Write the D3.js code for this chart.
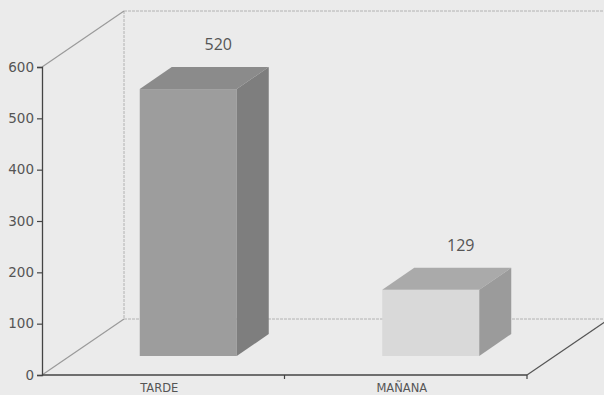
<!DOCTYPE html>
<html>
<head>
<meta charset="utf-8">
<script src="https://cdn.jsdelivr.net/npm/d3@7"></script>
<style>
  html, body { margin: 0; padding: 0; background: #ebebeb; }
  svg { display: block; }
</style>
</head>
<body>
<svg id="chart" width="604" height="395"></svg>
<script>
// Data
const categories = ["TARDE", "MAÑANA"];
const values = [520, 129];
const yTickValues = [0, 100, 200, 300, 400, 500, 600];

// Colours per bar: front, top, side
const frontColors = ["#9d9d9d", "#d9d9d9"];
const topColors = ["#8b8b8b", "#aaaaaa"];
const sideColors = ["#7e7e7e", "#9b9b9b"];

const W = 604, H = 395;
const plotLeft = 42, plotRight = 527, plotBottom = 375, plotTop = 67;
// oblique depth of the chart box and of each bar
const depth = { dx: 82, dy: -56 };
const barShift = { dx: 25, dy: -19 };
const barDepth = { dx: 32, dy: -22 };

const svg = d3.select("#chart");
svg.append("rect").attr("width", W).attr("height", H).attr("fill", "#ebebeb");

const y = d3.scaleLinear().domain([0, 600]).range([plotBottom, plotTop]);
const xAxisScale = d3.scaleBand().domain(categories).range([plotLeft, plotRight]).padding(0);
const xBar = d3.scaleBand().domain(categories)
  .range([plotLeft + barShift.dx, plotRight + barShift.dx])
  .paddingInner(0.6).paddingOuter(0.3);

// Back wall and floor edges
const wall = svg.append("g").attr("fill", "none").attr("stroke", "#b2b2b2").attr("stroke-width", 1);
const bx0 = plotLeft + depth.dx, bx1 = plotRight + depth.dx;
const byTop = y(600) + depth.dy, byBot = y(0) + depth.dy;
wall.append("line").attr("x1", bx0).attr("y1", byTop).attr("x2", bx1).attr("y2", byTop).attr("stroke-dasharray", "3,1");
wall.append("line").attr("x1", bx0).attr("y1", byTop).attr("x2", bx0).attr("y2", byBot).attr("stroke-dasharray", "3,1");
wall.append("line").attr("x1", bx0).attr("y1", byBot).attr("x2", bx1).attr("y2", byBot).attr("stroke-dasharray", "3,1");

// Oblique edges
const diag = svg.append("g").attr("fill", "none");
diag.append("line").attr("x1", plotLeft).attr("y1", y(600)).attr("x2", bx0).attr("y2", byTop)
  .attr("stroke", "#9a9a9a").attr("stroke-width", 1.2);
diag.append("line").attr("x1", plotLeft).attr("y1", y(0)).attr("x2", bx0).attr("y2", byBot)
  .attr("stroke", "#9a9a9a").attr("stroke-width", 1.2);
diag.append("line").attr("x1", plotRight).attr("y1", y(0)).attr("x2", bx1).attr("y2", byBot)
  .attr("stroke", "#555").attr("stroke-width", 1.2);

// Bars (front face, top, side)
const bars = svg.append("g");
categories.forEach((c, i) => {
  const x0 = xBar(c), x1 = x0 + xBar.bandwidth();
  const yT = y(values[i]) + barShift.dy;
  const yB = y(0) + barShift.dy;
  const g = bars.append("g");
  g.append("rect").attr("x", x0).attr("y", yT).attr("width", x1 - x0).attr("height", yB - yT)
    .attr("fill", frontColors[i]);
  g.append("path")
    .attr("d", d3.line()([[x0, yT], [x0 + barDepth.dx, yT + barDepth.dy], [x1 + barDepth.dx, yT + barDepth.dy], [x1, yT]]) + "Z")
    .attr("fill", topColors[i]);
  g.append("path")
    .attr("d", d3.line()([[x1, yT], [x1 + barDepth.dx, yT + barDepth.dy], [x1 + barDepth.dx, yB + barDepth.dy], [x1, yB]]) + "Z")
    .attr("fill", sideColors[i]);
  // value label
  svg.append("text")
    .attr("x", x0 + xBar.bandwidth() / 2 + 30)
    .attr("y", yT + barDepth.dy - 17)
    .attr("text-anchor", "middle")
    .attr("font-family", "'Open Sans', sans-serif")
    .attr("font-size", 16)
    .attr("fill", "#555")
    .text(values[i]);
});

// Y axis
const yAxis = svg.append("g").attr("transform", `translate(${plotLeft},0)`)
  .call(d3.axisLeft(y).tickValues(yTickValues).tickSize(5).tickPadding(3));
yAxis.select(".domain").attr("stroke", "#444").attr("stroke-width", 1.3);
yAxis.selectAll(".tick line").attr("stroke", "#444").attr("stroke-width", 1.2);
yAxis.selectAll(".tick text")
  .attr("font-family", "'DejaVu Sans', sans-serif")
  .attr("font-size", 13.5)
  .attr("fill", "#555");

// Front baseline with category dividers
const xAxis = svg.append("g");
xAxis.append("line").attr("x1", plotLeft).attr("y1", plotBottom).attr("x2", plotRight).attr("y2", plotBottom)
  .attr("stroke", "#444").attr("stroke-width", 1.3);
categories.forEach(c => {
  const xb = xAxisScale(c) + xAxisScale.bandwidth();
  xAxis.append("line").attr("x1", xb).attr("y1", plotBottom).attr("x2", xb).attr("y2", plotBottom + 4)
    .attr("stroke", "#444").attr("stroke-width", 1.2);
  xAxis.append("text")
    .attr("x", xAxisScale(c) + xAxisScale.bandwidth() / 2 - 4)
    .attr("y", plotBottom + 16.5)
    .attr("text-anchor", "middle")
    .attr("font-family", "'DejaVu Sans', sans-serif")
    .attr("font-size", 11.5)
    .attr("fill", "#555")
    .text(c);
});
</script>
</body>
</html>
